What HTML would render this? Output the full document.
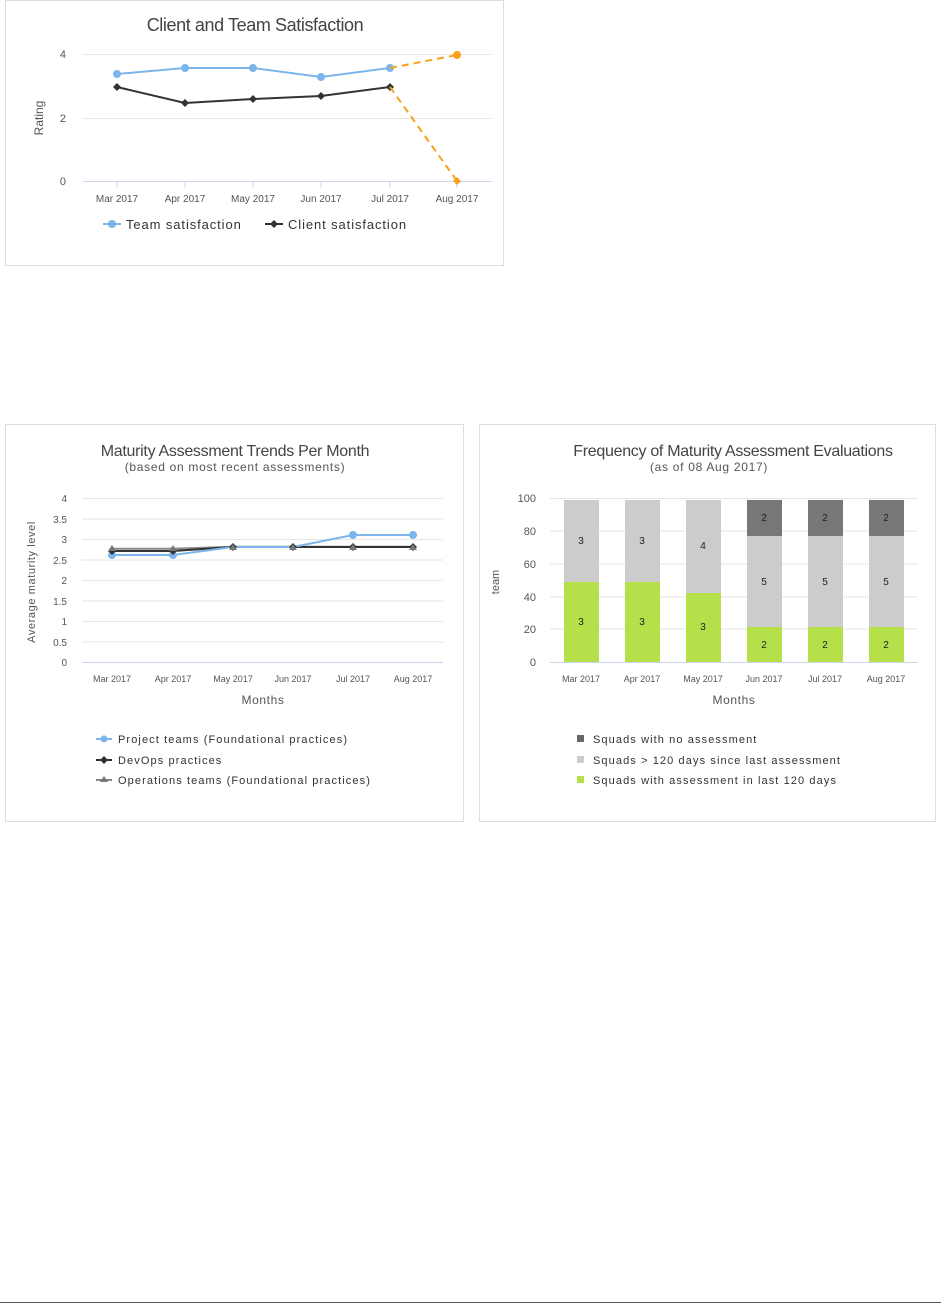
<!DOCTYPE html>
<html><head><meta charset="utf-8"><style>
html,body{margin:0;padding:0;background:#fff;}
svg{display:block;font-family:"Liberation Sans",sans-serif;}
</style></head><body>
<svg width="941" height="1304" viewBox="0 0 941 1304" xmlns="http://www.w3.org/2000/svg">
<!-- Chart 1 -->
<rect x="5.5" y="0.5" width="498" height="265" fill="#fff" stroke="#ddd"/>
<text x="255" y="31" text-anchor="middle" font-size="18" fill="#444" letter-spacing="-0.4">Client and Team Satisfaction</text>
<g stroke="#e6e6e6" stroke-width="1">
<line x1="83" y1="54.5" x2="492" y2="54.5"/><line x1="83" y1="118.5" x2="492" y2="118.5"/>
</g>
<line x1="83" y1="181.5" x2="492" y2="181.5" stroke="#ccd6eb"/>
<g stroke="#ccd6eb"><line x1="117" y1="182" x2="117" y2="188"/><line x1="185" y1="182" x2="185" y2="188"/><line x1="253" y1="182" x2="253" y2="188"/><line x1="321" y1="182" x2="321" y2="188"/><line x1="390" y1="182" x2="390" y2="188"/><line x1="457" y1="182" x2="457" y2="188"/></g>
<g font-size="11" fill="#555" text-anchor="end"><text x="66" y="58">4</text><text x="66" y="122">2</text><text x="66" y="185">0</text></g>
<text transform="translate(43,118) rotate(-90)" text-anchor="middle" font-size="12" fill="#555">Rating</text>
<g font-size="10" fill="#555" text-anchor="middle"><text x="117" y="202">Mar 2017</text><text x="185" y="202">Apr 2017</text><text x="253" y="202">May 2017</text><text x="321" y="202">Jun 2017</text><text x="390" y="202">Jul 2017</text><text x="457" y="202">Aug 2017</text></g>
<polyline points="117,74 185,68 253,68 321,77 390,68" fill="none" stroke="#7cb5ec" stroke-width="2"/>
<g fill="#7cb5ec"><circle cx="117" cy="74" r="4"/><circle cx="185" cy="68" r="4"/><circle cx="253" cy="68" r="4"/><circle cx="321" cy="77" r="4"/><circle cx="390" cy="68" r="4"/></g>
<polyline points="117,87 185,103 253,99 321,96 390,87" fill="none" stroke="#333" stroke-width="2"/>
<g fill="#333"><path d="M117 83l4 4-4 4-4-4z"/><path d="M185 99l4 4-4 4-4-4z"/><path d="M253 95l4 4-4 4-4-4z"/><path d="M321 92l4 4-4 4-4-4z"/><path d="M390 83l4 4-4 4-4-4z"/></g>
<line x1="390" y1="68" x2="457" y2="55" stroke="#f7a21a" stroke-width="2" stroke-dasharray="7,5"/>
<line x1="390" y1="87" x2="457" y2="181" stroke="#f7a21a" stroke-width="2" stroke-dasharray="7,5"/>
<circle cx="457" cy="55" r="4" fill="#f7a21a"/><path d="M457 177l4 4-4 4-4-4z" fill="#f7a21a"/>
<line x1="103" y1="224" x2="121" y2="224" stroke="#7cb5ec" stroke-width="2"/><circle cx="112" cy="224" r="4" fill="#7cb5ec"/>
<text x="126" y="229" font-size="13" fill="#333" letter-spacing="0.9">Team satisfaction</text>
<line x1="265" y1="224" x2="283" y2="224" stroke="#333" stroke-width="2"/><path d="M274 220l4 4-4 4-4-4z" fill="#333"/>
<text x="288" y="229" font-size="13" fill="#333" letter-spacing="0.9">Client satisfaction</text>

<!-- Chart 2 -->
<rect x="5.5" y="424.5" width="458" height="397" fill="#fff" stroke="#ddd"/>
<text x="235" y="456" text-anchor="middle" font-size="16" fill="#444" letter-spacing="-0.3">Maturity Assessment Trends Per Month</text>
<text x="235" y="471" text-anchor="middle" font-size="12" fill="#555" letter-spacing="0.7">(based on most recent assessments)</text>
<g stroke="#e6e6e6"><line x1="82" y1="498.5" x2="443" y2="498.5"/><line x1="82" y1="519" x2="443" y2="519"/><line x1="82" y1="539.5" x2="443" y2="539.5"/><line x1="82" y1="560" x2="443" y2="560"/><line x1="82" y1="580.5" x2="443" y2="580.5"/><line x1="82" y1="601" x2="443" y2="601"/><line x1="82" y1="621.5" x2="443" y2="621.5"/><line x1="82" y1="642" x2="443" y2="642"/></g>
<line x1="82" y1="662.5" x2="443" y2="662.5" stroke="#ccd6eb"/>
<g font-size="10" fill="#555" text-anchor="end"><text x="67" y="502">4</text><text x="67" y="523">3.5</text><text x="67" y="543">3</text><text x="67" y="564">2.5</text><text x="67" y="584">2</text><text x="67" y="605">1.5</text><text x="67" y="625">1</text><text x="67" y="646">0.5</text><text x="67" y="666">0</text></g>
<text transform="translate(35,582) rotate(-90)" text-anchor="middle" font-size="11" fill="#555" letter-spacing="0.6">Average maturity level</text>
<g font-size="9" fill="#555" text-anchor="middle"><text x="112" y="682">Mar 2017</text><text x="173" y="682">Apr 2017</text><text x="233" y="682">May 2017</text><text x="293" y="682">Jun 2017</text><text x="353" y="682">Jul 2017</text><text x="413" y="682">Aug 2017</text></g>
<text x="263" y="704" text-anchor="middle" font-size="12" fill="#555" letter-spacing="0.6">Months</text>
<polyline points="112,548.8 173,548.8 233,546.8 293,546.8 353,546.8 413,546.8" fill="none" stroke="#888" stroke-width="2"/>
<polyline points="112,551 173,551 233,547 293,547 353,547 413,547" fill="none" stroke="#333" stroke-width="2"/>
<polyline points="112,555 173,555 233,547 293,547 353,535 413,535" fill="none" stroke="#7cb5ec" stroke-width="2"/>
<g fill="#7cb5ec"><circle cx="112" cy="555" r="4"/><circle cx="173" cy="555" r="4"/><circle cx="353" cy="535" r="4"/><circle cx="413" cy="535" r="4"/></g>
<g fill="#333"><path d="M112 547l4 4-4 4-4-4z"/><path d="M173 547l4 4-4 4-4-4z"/><path d="M233 543l4 4-4 4-4-4z"/><path d="M293 543l4 4-4 4-4-4z"/><path d="M353 543l4 4-4 4-4-4z"/><path d="M413 543l4 4-4 4-4-4z"/></g>
<g fill="#777"><path d="M112 545l4 6h-8z"/><path d="M173 545l4 6h-8z"/><path d="M233 544l4 6h-8z"/><path d="M293 544l4 6h-8z"/><path d="M353 544l4 6h-8z"/><path d="M413 544l4 6h-8z"/></g>
<g font-size="11" fill="#333" letter-spacing="1.1">
<line x1="96" y1="739" x2="112" y2="739" stroke="#7cb5ec" stroke-width="2"/><circle cx="104" cy="739" r="3.5" fill="#7cb5ec"/>
<text x="118" y="743">Project teams (Foundational practices)</text>
<line x1="96" y1="760" x2="112" y2="760" stroke="#333" stroke-width="2"/><path d="M104 756l4 4-4 4-4-4z" fill="#333"/>
<text x="118" y="764">DevOps practices</text>
<line x1="96" y1="780" x2="112" y2="780" stroke="#888" stroke-width="2"/><path d="M104 776l4 6h-8z" fill="#777"/>
<text x="118" y="784">Operations teams (Foundational practices)</text>
</g>

<!-- Chart 3 -->
<rect x="479.5" y="424.5" width="456" height="397" fill="#fff" stroke="#ddd"/>
<text x="733" y="456" text-anchor="middle" font-size="16" fill="#444" letter-spacing="-0.3">Frequency of Maturity Assessment Evaluations</text>
<text x="709" y="471" text-anchor="middle" font-size="12" fill="#555" letter-spacing="0.7">(as of 08 Aug 2017)</text>
<g stroke="#e6e6e6"><line x1="550" y1="498.5" x2="918" y2="498.5"/><line x1="550" y1="531" x2="918" y2="531"/><line x1="550" y1="564" x2="918" y2="564"/><line x1="550" y1="597" x2="918" y2="597"/><line x1="550" y1="629" x2="918" y2="629"/></g>
<line x1="550" y1="662.5" x2="918" y2="662.5" stroke="#ccd6eb"/>
<g font-size="11" fill="#555" text-anchor="end"><text x="536" y="502">100</text><text x="536" y="535">80</text><text x="536" y="568">60</text><text x="536" y="601">40</text><text x="536" y="633">20</text><text x="536" y="666">0</text></g>
<text transform="translate(499,582) rotate(-90)" text-anchor="middle" font-size="11" fill="#555">team</text>
<g>
<rect x="564" y="500" width="35" height="82" fill="#ccc"/><rect x="564" y="582" width="35" height="80" fill="#b5e04a"/>
<rect x="625" y="500" width="35" height="82" fill="#ccc"/><rect x="625" y="582" width="35" height="80" fill="#b5e04a"/>
<rect x="686" y="500" width="35" height="93" fill="#ccc"/><rect x="686" y="593" width="35" height="69" fill="#b5e04a"/>
<rect x="747" y="500" width="35" height="36" fill="#777"/><rect x="747" y="536" width="35" height="91" fill="#ccc"/><rect x="747" y="627" width="35" height="35" fill="#b5e04a"/>
<rect x="808" y="500" width="35" height="36" fill="#777"/><rect x="808" y="536" width="35" height="91" fill="#ccc"/><rect x="808" y="627" width="35" height="35" fill="#b5e04a"/>
<rect x="869" y="500" width="35" height="36" fill="#777"/><rect x="869" y="536" width="35" height="91" fill="#ccc"/><rect x="869" y="627" width="35" height="35" fill="#b5e04a"/>
</g>
<g font-size="10" fill="#222" text-anchor="middle">
<text x="581" y="544">3</text><text x="581" y="625">3</text>
<text x="642" y="544">3</text><text x="642" y="625">3</text>
<text x="703" y="549">4</text><text x="703" y="630">3</text>
<text x="764" y="521">2</text><text x="764" y="585">5</text><text x="764" y="648">2</text>
<text x="825" y="521">2</text><text x="825" y="585">5</text><text x="825" y="648">2</text>
<text x="886" y="521">2</text><text x="886" y="585">5</text><text x="886" y="648">2</text>
</g>
<g font-size="9" fill="#555" text-anchor="middle"><text x="581" y="682">Mar 2017</text><text x="642" y="682">Apr 2017</text><text x="703" y="682">May 2017</text><text x="764" y="682">Jun 2017</text><text x="825" y="682">Jul 2017</text><text x="886" y="682">Aug 2017</text></g>
<text x="734" y="704" text-anchor="middle" font-size="12" fill="#555" letter-spacing="0.6">Months</text>
<g font-size="11" fill="#333" letter-spacing="1.1">
<rect x="577" y="735" width="7" height="7" fill="#666"/><text x="593" y="743">Squads with no assessment</text>
<rect x="577" y="756" width="7" height="7" fill="#ccc"/><text x="593" y="764">Squads &gt; 120 days since last assessment</text>
<rect x="577" y="776" width="7" height="7" fill="#b5e04a"/><text x="593" y="784">Squads with assessment in last 120 days</text>
</g>

<line x1="0" y1="1302.5" x2="941" y2="1302.5" stroke="#555"/>
</svg>
</body></html>
